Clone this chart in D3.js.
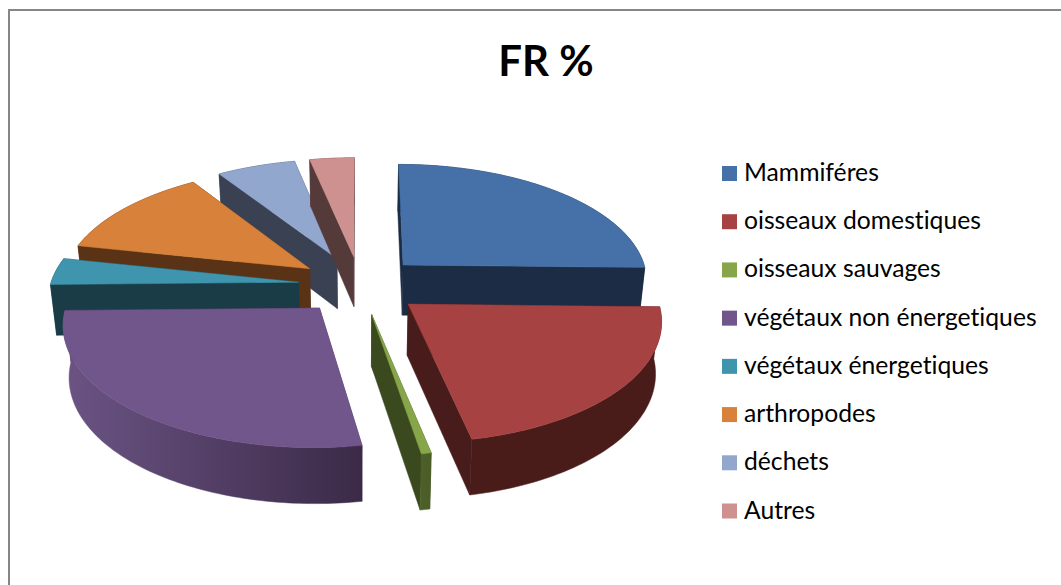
<!DOCTYPE html>
<html>
<head>
<meta charset="utf-8">
<script src="https://cdn.jsdelivr.net/npm/d3@7/dist/d3.min.js"></script>
<style>
html,body{margin:0;padding:0;background:#fff;overflow:hidden}
svg{display:block}
text{font-family:Lato,Carlito,sans-serif;fill:#000;font-variant-ligatures:none}
</style>
</head>
<body>
<script>
const title = "FR %";
const categories = ["Mammiféres","oisseaux domestiques","oisseaux sauvages","végétaux non énergetiques","végétaux énergetiques","arthropodes","déchets","Autres"];
const values = [25.36, 21.42, 0.56, 27.36, 3.64, 12.5, 5.86, 3.31];
const topColors = ["#4571a8","#a64342","#87a64a","#71568c","#3f95ae","#d7813b","#92a7ce","#cf9090"];
const wallColors = ["#1b2c44","#481c1a","#3a4a1e","#3c2b48","#1a3c47","#5a3316","#3a4152","#553a3a"];
const outerLight = ["#1b2c44","#491c1a","#4d6029","#6b5485","#1a3c47","#5a3316","#3a4152","#553a3a"];
const outerDark  = ["#1b2c44","#491c1a","#4a5c27","#3b2a47","#1a3c47","#5a3316","#3a4152","#553a3a"];
const drawOrder = [6,7,0,5,4,2,3,1];

const W = 1061, H = 585;
const svg = d3.select("body").append("svg").attr("width",W).attr("height",H);
const defs = svg.append("defs");

svg.append("rect").attr("x",9).attr("y",10).attr("width",W+20).attr("height",H+20)
   .attr("fill","#fff").attr("stroke","#868686").attr("stroke-width",2);

svg.append("text").attr("x",546).attr("y",76).attr("text-anchor","middle")
   .attr("font-size",42).attr("font-weight",700).text(title);

// Scales of the tilted pie plane
const xScale = d3.scaleLinear().domain([-1,0,1]).range([360-248,360,360+246]);
const yScale = d3.scaleLinear().domain([-1,1]).range([285-117,285+117]);
const persp = 0.119, explode = 0.25;

function project(u,v,bottom){
  const w = 1/(1-persp*v);
  const xt = xScale(u*w), yt = yScale(v*w);
  if(!bottom) return [xt,yt];
  const cx = xScale(0);
  return [cx+(xt-cx)*0.98, yt+50+(yt-260)*0.032];
}
const line = d3.line();
const pie = d3.pie().sort(null).value(d=>d).startAngle(0).endAngle(2*Math.PI);
const arcs = pie(values);

drawOrder.forEach(i=>{
  const a = arcs[i], mid=(a.startAngle+a.endAngle)/2;
  const ou = explode*Math.sin(mid), ov = -explode*Math.cos(mid);
  const n = Math.max(4,Math.ceil((a.endAngle-a.startAngle)/0.02));
  const rim = d3.range(n+1).map(k=>{
    const t = a.startAngle+(a.endAngle-a.startAngle)*k/n;
    return [ou+Math.sin(t), ov-Math.cos(t)];
  });
  const P = (p,b)=>project(p[0],p[1],b);
  const apex=[ou,ov], first=rim[0], last=rim[n];
  const rimTop = rim.map(p=>P(p,false)), rimBot = rim.map(p=>P(p,true));

  const gid="outer"+i;
  const xs = rimTop.map(p=>p[0]);
  const lg = defs.append("linearGradient").attr("id",gid).attr("gradientUnits","userSpaceOnUse")
     .attr("x1",d3.min(xs)).attr("x2",d3.max(xs)).attr("y1",0).attr("y2",0);
  lg.append("stop").attr("offset",0).attr("stop-color",outerLight[i]);
  lg.append("stop").attr("offset",1).attr("stop-color",outerDark[i]);

  const walls = [
    {pts:[P(apex,false),P(first,false),P(first,true),P(apex,true)],fill:wallColors[i]},
    {pts:[P(apex,false),P(last,false),P(last,true),P(apex,true)],fill:wallColors[i]},
    {pts:rimTop.concat(rimBot.slice().reverse()),fill:`url(#${gid})`}
  ];
  walls.forEach(w=>{w.my=d3.mean(w.pts,p=>p[1]);});
  walls.sort((p,q)=>d3.ascending(p.my,q.my));
  const g = svg.append("g");
  g.selectAll("path.wall").data(walls).join("path").attr("class","wall")
    .attr("d",d=>line(d.pts)+"Z").attr("fill",d=>d.fill)
    .attr("stroke",d=>d.fill).attr("stroke-width",0.5).attr("stroke-linejoin","round");
  g.append("path").attr("d",line([P(apex,false)].concat(rimTop))+"Z")
    .attr("fill",topColors[i]).attr("stroke",topColors[i]).attr("stroke-width",0.5)
    .attr("stroke-linejoin","round");
});

// Legend
const legY = d3.scalePoint().domain(categories).range([173.5,511]);
const leg = svg.append("g").selectAll("g").data(categories).join("g")
   .attr("transform",d=>`translate(0,${legY(d)})`);
leg.append("rect").attr("x",722).attr("y",-7.5).attr("width",15).attr("height",15)
   .attr("fill",(d,i)=>topColors[i]);
leg.append("text").attr("x",744).attr("y",7.5).attr("font-size",24.7).text(d=>d);
</script>
</body>
</html>
